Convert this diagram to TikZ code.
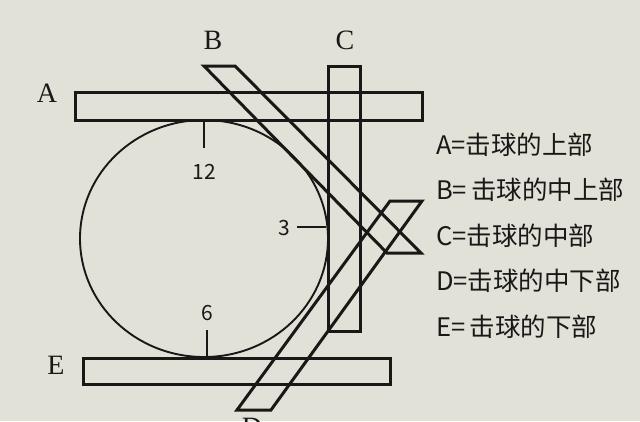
\documentclass[tikz,border=0pt]{standalone}
\usepackage{fontspec}
\setmainfont{Liberation Serif}
\newfontfamily\cjk{Noto Sans CJK SC}
\usetikzlibrary{positioning}

\definecolor{paper}{RGB}{226,225,216}
\definecolor{ink}{RGB}{24,24,22}

\begin{document}
\begin{tikzpicture}[x=1pt,y=-1pt,ink,line join=miter,
                    node distance=20pt,
                    board/.style={draw=ink,line width=3pt},
                    tick/.style={draw=ink,line width=2pt},
                    letter/.style={font=\fontsize{28}{28}\selectfont},
                    hour/.style={font=\cjk\fontsize{21}{21}\selectfont},
                    legend/.style={font=\cjk\fontsize{25.5}{26}\selectfont,anchor=west,
                                   inner sep=0pt,text height=19pt,text depth=6pt}]

  \fill[paper] (0,0) rectangle (640,421);
  \useasboundingbox (0,0) rectangle (640,421);

  % the ball and its clock marks
  \draw[line width=1.9pt] (204,238.5) ellipse [x radius=124, y radius=118.5];
  \coordinate (top)    at (204,120);
  \coordinate (right)  at (326,227);
  \coordinate (bottom) at (207,357);
  \draw[tick] (top) -- ++(0,28);
  \draw[tick] (right) -- ++(-29,0);
  \draw[tick] (bottom) -- ++(0,-27);
  \node[hour] (h12) at (204,172) {12};
  \node[hour] (h3)  at (284,228) {3};
  \node[hour] (h6)  at (207,313) {6};

  % the cue positions
  \draw[board] (75,92) rectangle (422,120);
  \draw[board] (204,66) -- (235,66) -- (421,253) -- (387,253) -- cycle;
  \draw[board] (328,66) rectangle (360,331);
  \draw[board] (390,201) -- (422,201) -- (271,410) -- (237,410) -- cycle;
  \draw[board] (83,358) rectangle (390,384);

  \node[letter] (la) at (47,93)   {A};
  \node[letter] (lb) at (213,40)  {B};
  \node[letter] (lc) at (345,40)  {C};
  \node[letter] (ld) at (252,427) {D};
  \node[letter] (le) at (56,365)  {E};

  % legend
  \node[legend] (ta) at (436,148)   {A=击球的上部};
  \node[legend] (tb) [below=of ta.south west,anchor=north west] {B=\,击球的中上部};
  \node[legend] (tc) [below=of tb.south west,anchor=north west] {C=击球的中部};
  \node[legend] (td) [below=of tc.south west,anchor=north west] {D=击球的中下部};
  \node[legend] (te) [below=of td.south west,anchor=north west] {E=\,击球的下部};
\end{tikzpicture}
\end{document}
